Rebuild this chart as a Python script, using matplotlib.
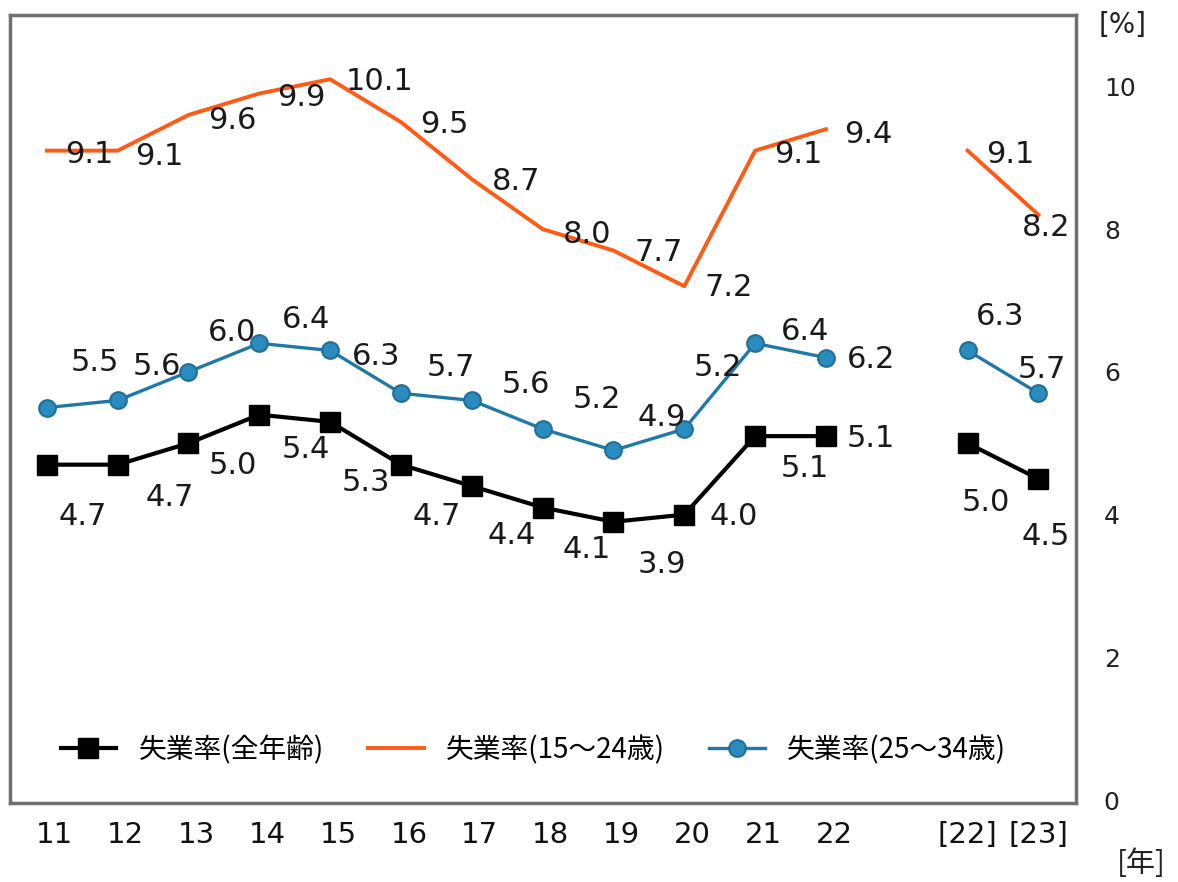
import numpy as np
import matplotlib
matplotlib.use("Agg")
import matplotlib.pyplot as plt
import matplotlib.transforms as mtransforms

# 年（11〜22年、[22][23]は別系列）
year_labels = ['11', '12', '13', '14', '15', '16', '17', '18', '19', '20', '21', '22', '', '[22]', '[23]']

# 失業率 [%]（None は区切り）
all_ages = [4.7, 4.7, 5.0, 5.4, 5.3, 4.7, 4.4, 4.1, 3.9, 4.0, 5.1, 5.1, None, 5.0, 4.5]
age_15_24 = [9.1, 9.1, 9.6, 9.9, 10.1, 9.5, 8.7, 8.0, 7.7, 7.2, 9.1, 9.4, None, 9.1, 8.2]
age_25_34 = [5.5, 5.6, 6.0, 6.4, 6.3, 5.7, 5.6, 5.2, 4.9, 5.2, 6.4, 6.2, None, 6.3, 5.7]

# ラベルのずらし量（ピクセル, 右・下が正）
off_all = [(36, 52), (52, 33), (44, 22), (47, 35), (36, 61), (36, 52), (40, 49), (44, 42),
           (48, 43), (49, 2), (50, 32), (45, 2), None, (18, 59), (7, 58)]
off_15_24 = [(42, 4), (42, 6), (44, 6), (42, 4), (49, 2), (43, 2), (44, 2), (44, 5),
             (45, 2), (44, 1), (43, 4), (42, 5), None, (43, 4), (8, 13)]
off_25_34 = [(48, -45), (39, -34), (44, -39), (47, -24), (46, 6), (50, -26), (54, -16), (54, -29),
             (48, -33), (34, -61), (50, -12), (45, 2), None, (32, -34), (3, -24)]

CJK = ['Noto Sans CJK JP', 'DejaVu Sans']

fig = plt.figure(figsize=(11.78, 8.82), dpi=100)
ax = fig.add_axes([10 / 1178, 1 - 803 / 882, 1066 / 1178, 788 / 882])

x = np.arange(len(year_labels))
y_all = np.array([np.nan if v is None else v for v in all_ages])
y_y = np.array([np.nan if v is None else v for v in age_15_24])
y_m = np.array([np.nan if v is None else v for v in age_25_34])

ax.plot(x, y_all, color='black', lw=3.0, marker='s', ms=14, label='失業率(全年齢)')
ax.plot(x, y_y, color='#FF5B14', lw=2.8, label='失業率(15～24歳)')
ax.plot(x, y_m, color='#1F78A8', lw=2.4, marker='o', ms=12,
        markerfacecolor='#2A8CBE', markeredgecolor='#1F6F9A', mew=1.5,
        label='失業率(25～34歳)')

# データラベル
for vals, offs in [(age_15_24, off_15_24), (age_25_34, off_25_34), (all_ages, off_all)]:
    for xi, v, o in zip(x, vals, offs):
        if v is None:
            continue
        ax.annotate(f'{v:.1f}', (xi, v), xytext=(o[0], -o[1]), textcoords='offset pixels',
                    ha='center', va='center', fontsize=22, color='#1a1a1a')

ax.set_xlim(-0.52, 14.53)
ax.set_ylim(-0.04, 11.0)

ax.set_xticks(x)
ax.set_xticklabels(year_labels, fontsize=21, color='#111111')
ax.tick_params(axis='x', length=0, pad=13)
shift = mtransforms.ScaledTranslation(8 / 100, 0, fig.dpi_scale_trans)
for lab in ax.get_xticklabels()[:12]:
    lab.set_transform(lab.get_transform() + shift)

ax.yaxis.tick_right()
ax.set_yticks([0, 2, 4, 6, 8, 10])
ax.tick_params(axis='y', length=0, pad=20, labelsize=18, labelcolor='#222222')

for s in ax.spines.values():
    s.set_color('#707070')
    s.set_linewidth(2.5)

fig.text(1123 / 1178, 1 - 25 / 882, '[%]', ha='center', va='center', fontsize=20, color='#222222')
fig.text(1141 / 1178, 1 - 864 / 882, '[年]', ha='center', va='center', fontsize=21,
         color='#222222', family=CJK)

leg = ax.legend(loc='center left', bbox_to_anchor=(0.024, 0.067), ncol=3, frameon=True,
                prop={'family': CJK, 'size': 20}, handlelength=2.0, handletextpad=0.8,
                columnspacing=1.6, borderpad=0.4, fancybox=False)
leg.get_frame().set_edgecolor('none')
leg.get_frame().set_facecolor('white')

fig.savefig('out.png', dpi=100)
